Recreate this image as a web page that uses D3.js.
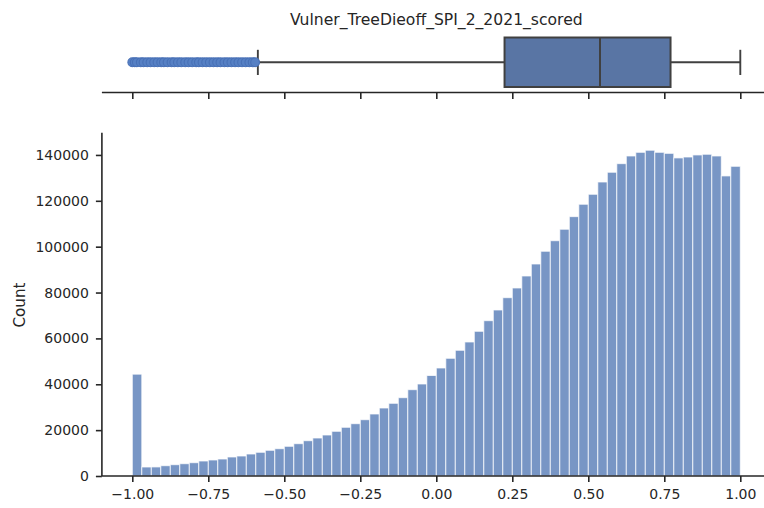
<!DOCTYPE html>
<html>
<head>
<meta charset="utf-8">
<script src="https://cdn.jsdelivr.net/npm/d3@7"></script>
<style>
  html, body { margin: 0; padding: 0; background: #fff; }
  svg { display: block; }
  text { font-family: "DejaVu Sans", sans-serif; fill: #262626; }
</style>
</head>
<body>
<svg id="chart" width="764" height="508"></svg>
<script>
// Histogram of the scored vulnerability index: 64 equal bins on [-1, 1]
const binStart = -1.0;
const binWidth = 0.03125;
const counts = [
  44400, 3920, 3950, 4490, 4930, 5360, 5800, 6540,
  6980, 7410, 8290, 8720, 9590, 10340, 11210, 11900,
  12950, 14090, 15390, 16570, 17880, 19490, 21240, 22810,
  24550, 27040, 29650, 31700, 34150, 37640, 40120, 43830,
  47100, 51330, 54820, 58440, 63100, 67730, 72390, 77760,
  81990, 87220, 92450, 98000, 102600, 107600, 113100, 118500,
  122850, 128200, 132450, 136200, 139550, 141150, 142050, 141150,
  140700, 138700, 139100, 140000, 140300, 139550, 130850, 135050
];

// Box summary
const boxStats = { whiskerLow: -0.587, q1: 0.2245, median: 0.5385, q3: 0.7705, whiskerHigh: 1.0 };
const outliers = [
  -1.0, -0.992, -0.985, -0.972, -0.963, -0.951, -0.94, -0.928, -0.917, -0.905,
  -0.896, -0.884, -0.871, -0.862, -0.85, -0.839, -0.826, -0.815, -0.803, -0.79,
  -0.781, -0.769, -0.757, -0.745, -0.733, -0.721, -0.71, -0.697, -0.686, -0.674,
  -0.662, -0.651, -0.639, -0.627, -0.615, -0.604, -0.596
];

const xTicks = [-1.0, -0.75, -0.5, -0.25, 0.0, 0.25, 0.5, 0.75, 1.0];
const yTicks = [0, 20000, 40000, 60000, 80000, 100000, 120000, 140000];
const titleText = "Vulner_TreeDieoff_SPI_2_2021_scored";
const yLabel = "Count";

const svg = d3.select("#chart");

const x = d3.scaleLinear().domain([-1.1, 1.1]).range([101.9, 770.7]);
const y = d3.scaleLinear().domain([0, 149700]).range([476, 132.7]);

const ink = "#262626";
const tickFont = "14px";
const fmtX = v => d3.format(".2f")(v).replace("-", "\u2212");

// ---- top panel: box plot ----
const boxTop = 37.5, boxBottom = 87, boxMid = 62.3;
const lineCol = "#404040";

svg.append("text")
  .attr("x", 436.3).attr("y", 24.5)
  .attr("text-anchor", "middle")
  .attr("font-size", "15.6px")
  .text(titleText);

// whisker lines
svg.append("line")
  .attr("x1", x(boxStats.whiskerLow)).attr("x2", x(boxStats.q1))
  .attr("y1", boxMid).attr("y2", boxMid)
  .attr("stroke", lineCol).attr("stroke-width", 1.9);
svg.append("line")
  .attr("x1", x(boxStats.q3)).attr("x2", x(boxStats.whiskerHigh))
  .attr("y1", boxMid).attr("y2", boxMid)
  .attr("stroke", lineCol).attr("stroke-width", 1.9);
// caps
[boxStats.whiskerLow, boxStats.whiskerHigh].forEach(v => {
  svg.append("line")
    .attr("x1", x(v)).attr("x2", x(v))
    .attr("y1", 49.8).attr("y2", 75)
    .attr("stroke", lineCol).attr("stroke-width", 1.9);
});
// box
svg.append("rect")
  .attr("x", x(boxStats.q1)).attr("y", boxTop)
  .attr("width", x(boxStats.q3) - x(boxStats.q1))
  .attr("height", boxBottom - boxTop)
  .attr("fill", "#5975a4")
  .attr("stroke", lineCol).attr("stroke-width", 2);
svg.append("line")
  .attr("x1", x(boxStats.median)).attr("x2", x(boxStats.median))
  .attr("y1", boxTop).attr("y2", boxBottom)
  .attr("stroke", lineCol).attr("stroke-width", 2);
// outliers
svg.append("g").selectAll("circle")
  .data(outliers)
  .join("circle")
  .attr("cx", d => x(d)).attr("cy", boxMid)
  .attr("r", 4.4)
  .attr("fill", "#5680c4")
  .attr("stroke", "#4870b6")
  .attr("stroke-width", 1.1);

// top panel x axis (ticks only)
const topAxis = svg.append("g").attr("transform", "translate(0,92.5)")
  .call(d3.axisBottom(x).tickValues(xTicks).tickSize(6.5).tickFormat(""));
topAxis.select(".domain").attr("stroke", ink).attr("stroke-width", 1.6)
  .attr("d", `M${x.range()[0]},0H${x.range()[1]}`);
topAxis.selectAll(".tick line").attr("stroke", ink).attr("stroke-width", 1.6);

// ---- main panel: histogram ----
svg.append("g").selectAll("rect")
  .data(counts)
  .join("rect")
  .attr("x", (d, i) => x(binStart + i * binWidth))
  .attr("width", (d, i) => x(binStart + (i + 1) * binWidth) - x(binStart + i * binWidth))
  .attr("y", d => y(d))
  .attr("height", d => y(0) - y(d))
  .attr("fill", "#7896c5")
  .attr("stroke", "#ffffff")
  .attr("stroke-opacity", 0.75)
  .attr("stroke-width", 1);

const xAxis = svg.append("g").attr("transform", "translate(0,476)")
  .call(d3.axisBottom(x).tickValues(xTicks).tickSize(6).tickPadding(7).tickFormat(fmtX));
xAxis.select(".domain").attr("stroke", ink).attr("stroke-width", 1.6)
  .attr("d", `M${x.range()[0]},0H${x.range()[1]}`);
xAxis.selectAll(".tick line").attr("stroke", ink).attr("stroke-width", 1.6);
xAxis.selectAll(".tick text").attr("font-size", tickFont).attr("fill", ink)
  .attr("font-family", "DejaVu Sans, sans-serif");

const yAxis = svg.append("g").attr("transform", "translate(101.9,0)")
  .call(d3.axisLeft(y).tickValues(yTicks).tickSize(6).tickPadding(7).tickFormat(d3.format("d")));
yAxis.select(".domain").attr("stroke", ink).attr("stroke-width", 1.6)
  .attr("d", `M0,${y.range()[0]}V${y.range()[1]}`);
yAxis.selectAll(".tick line").attr("stroke", ink).attr("stroke-width", 1.6);
yAxis.selectAll(".tick text").attr("font-size", tickFont).attr("fill", ink)
  .attr("font-family", "DejaVu Sans, sans-serif");

svg.append("text")
  .attr("transform", "translate(24.5,305) rotate(-90)")
  .attr("text-anchor", "middle")
  .attr("font-size", "15.2px")
  .text(yLabel);
</script>
</body>
</html>
